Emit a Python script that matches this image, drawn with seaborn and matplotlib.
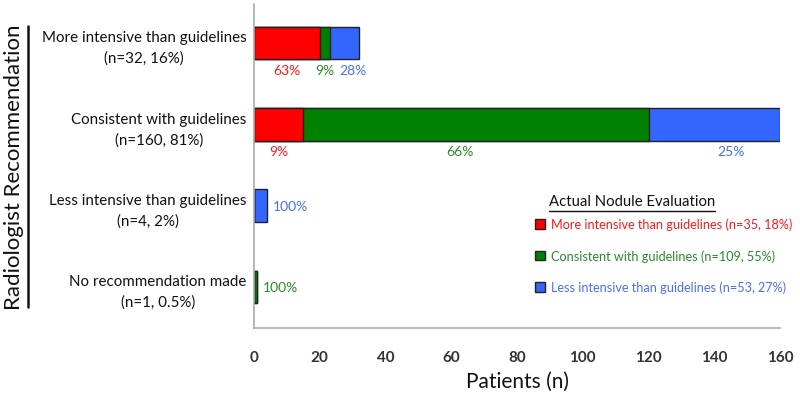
import numpy as np
import pandas as pd
import matplotlib.pyplot as plt
from matplotlib.patches import Patch
from matplotlib.lines import Line2D
import seaborn as sns

# ── Data ──────────────────────────────────────────────────────────────
categories = [
    "More intensive than guidelines\n(n=32, 16%)",
    "Consistent with guidelines\n(n=160, 81%)",
    "Less intensive than guidelines\n(n=4, 2%)",
    "No recommendation made\n(n=1, 0.5%)",
]
more_vals = [20, 15, 0, 0]
consistent_vals = [3, 105, 0, 1]
less_vals = [9, 40, 4, 0]

more_pct = ["63%", "9%", "", ""]
consistent_pct = ["9%", "66%", "", "100%"]
less_pct = ["28%", "25%", "100%", ""]

legend_labels = [
    "More intensive than guidelines (n=35, 18%)",
    "Consistent with guidelines (n=109, 55%)",
    "Less intensive than guidelines (n=53, 27%)",
]

BAR_COLORS = ["#ff0000", "#008000", "#3366ff"]
TEXT_COLORS = ["#ff1a1a", "#2a8a2a", "#4a70f0"]
# small horizontal nudges (data units) for the percent labels, keyed (row, segment)
LABEL_NUDGE = {(0, 2): 2.5, (1, 1): -5.0, (1, 2): 5.0}

sns.set_style("white")
plt.rcParams["font.family"] = ["Lato", "DejaVu Sans"]

df = pd.DataFrame({
    "cat": categories,
    "more": more_vals,
    "consistent": consistent_vals,
    "less": less_vals,
})
df["c1"] = df["more"]
df["c2"] = df["c1"] + df["consistent"]
df["c3"] = df["c2"] + df["less"]

fig = plt.figure(figsize=(8, 4.02), dpi=100)
ax = fig.add_axes([0.3175, 0.1816, 0.6575, 0.806])

# stacked bars drawn back to front (cumulative totals)
BAR_W = 0.405
for col, color in zip(["c3", "c2", "c1"], BAR_COLORS[::-1]):
    sns.barplot(data=df, x=col, y="cat", orient="h", color=color, width=BAR_W,
                edgecolor="#222222", linewidth=1.0, saturation=1, ax=ax)

ax.set_xlim(0, 160)
ax.set_ylim(3.504, -0.48)
ax.set_xticks(np.arange(0, 161, 20))
ax.set_yticks(range(len(categories)))
ax.set_yticklabels(categories, fontsize=10.9, ma="center", color="#111111",
                   linespacing=1.55)
ax.set_xlabel("Patients (n)", fontsize=15, labelpad=5, color="#111111")
ax.set_ylabel("")
ax.tick_params(axis="x", labelsize=11, direction="inout",
               length=5, width=1, color="#aaaaaa", pad=13.5)
ax.tick_params(axis="y", length=0, pad=5.5)
for lab in ax.get_xticklabels():
    lab.set_fontweight("bold")
    lab.set_color("#333333")

for s in ["top", "right"]:
    ax.spines[s].set_visible(False)
for s in ["left", "bottom"]:
    ax.spines[s].set_color("#aaaaaa")
    ax.spines[s].set_linewidth(1.2)

# percentage labels
for i in range(len(categories)):
    segs = [(0, df["c1"][i], more_pct[i], TEXT_COLORS[0]),
            (df["c1"][i], df["c2"][i], consistent_pct[i], TEXT_COLORS[1]),
            (df["c2"][i], df["c3"][i], less_pct[i], TEXT_COLORS[2])]
    single = sum(1 for s in segs if s[2]) == 1 and df["c3"][i] < 10
    for k, (lo, hi, txt, tc) in enumerate(segs):
        if not txt:
            continue
        if single:
            ax.text(hi + 1.8, i, txt, color=tc, fontsize=10, va="center", ha="left")
        else:
            xc = (lo + hi) / 2 + LABEL_NUDGE.get((i, k), 0)
            ax.text(xc, i + BAR_W / 2 + 0.13, txt, color=tc,
                    fontsize=10, va="center", ha="center")

# legend
handles = [Patch(facecolor=c, edgecolor="#222222", linewidth=1.0) for c in BAR_COLORS]
leg = ax.legend(handles, legend_labels, loc="upper left", bbox_to_anchor=(0.534, 0.34),
                frameon=False, fontsize=9.1, handlelength=0.8, handleheight=0.8,
                handletextpad=0.45, labelspacing=1.5, borderpad=0, borderaxespad=0)
for t, c in zip(leg.get_texts(), TEXT_COLORS):
    t.set_color(c)

# legend title, underlined
title = fig.text(0.686, 0.488, "Actual Nodule Evaluation", fontsize=10.7,
                 ha="left", va="baseline", color="#111111")
fig.canvas.draw()
bb = title.get_window_extent().transformed(fig.transFigure.inverted())
fig.add_artist(Line2D([bb.x0, bb.x1], [bb.y0 - 0.007, bb.y0 - 0.007],
                      color="#111111", linewidth=1.0))

# y axis title with vertical rule
fig.text(0.018, 0.583, "Radiologist Recommendation", rotation=90, fontsize=16,
         ha="center", va="center", color="#111111")
fig.add_artist(Line2D([0.035, 0.035], [1 - 27 / 402, 1 - 308 / 402],
                      color="#111111", linewidth=1.8))

fig.savefig("out.png", dpi=100)
